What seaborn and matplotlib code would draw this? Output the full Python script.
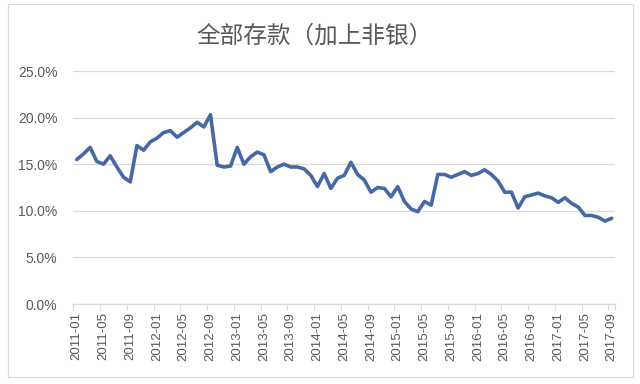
import numpy as np
import pandas as pd
import matplotlib
matplotlib.use('Agg')
import matplotlib.pyplot as plt
import matplotlib.patches as mpatches
from matplotlib.ticker import FuncFormatter, FixedLocator
import seaborn as sns

# ==========================================
# 數據：全部存款（加上非银）同比，%
# ==========================================
MONTHS = [str(p) for p in pd.period_range('2011-01', '2017-09', freq='M')]
VALUES = [
    15.5, 16.1, 16.8, 15.3, 15.0, 15.9, 14.7, 13.6, 13.1, 17.0, 16.5, 17.4,
    17.8, 18.4, 18.6, 17.9, 18.4, 18.9, 19.5, 19.0, 20.3, 14.9, 14.7, 14.8,
    16.8, 15.0, 15.8, 16.3, 16.0, 14.2, 14.7, 15.0, 14.7, 14.7, 14.5, 13.8,
    12.6, 14.0, 12.4, 13.5, 13.8, 15.2, 13.9, 13.3, 12.0, 12.5, 12.4, 11.5,
    12.6, 11.0, 10.2, 9.9, 11.0, 10.6, 13.9, 13.9, 13.6, 13.9, 14.2, 13.8,
    14.0, 14.4, 13.9, 13.2, 12.0, 12.0, 10.3, 11.5, 11.7, 11.9, 11.6, 11.4,
    10.9, 11.4, 10.8, 10.4, 9.5, 9.5, 9.3, 8.9, 9.2,
]
TITLE = '全部存款（加上非银）'
Y_TICKS = [0, 5, 10, 15, 20, 25]
LABEL_STEP = 4

LINE_COLOR = '#4669A6'
GRID_COLOR = '#D9D9D9'
TEXT_COLOR = '#595959'

sns.set_theme(style='white')
plt.rcParams['font.family'] = ['Liberation Sans', 'Noto Sans CJK SC', 'DejaVu Sans']

df = pd.DataFrame({'idx': np.arange(len(MONTHS)), 'month': MONTHS, 'value': VALUES})

fig = plt.figure(figsize=(6.4, 3.84), dpi=100)
ax = fig.add_axes([0.1147, 0.2083, 0.8463, 0.6068])

sns.lineplot(data=df, x='idx', y='value', ax=ax, color=LINE_COLOR, linewidth=2.6)

ax.set_xlim(-0.5, len(MONTHS) - 0.5)
ax.set_ylim(0, 25)

# 網格與刻度
ax.yaxis.set_major_locator(FixedLocator(Y_TICKS))
ax.yaxis.set_major_formatter(FuncFormatter(lambda v, p: f'{v:.1f}%'))
ax.grid(axis='y', color=GRID_COLOR, linewidth=0.9)
ax.set_axisbelow(True)

label_pos = df['idx'][::LABEL_STEP].tolist()
ax.set_xticks(label_pos)
ax.set_xticklabels(df['month'][::LABEL_STEP].tolist(), rotation=90)
ax.set_xticks([p - 0.5 for p in label_pos] + [len(MONTHS) - 0.5], minor=True)
ax.tick_params(axis='x', which='major', length=0, pad=6, labelsize=9.5, labelcolor=TEXT_COLOR)
ax.tick_params(axis='x', which='minor', length=4, width=0.8, color=GRID_COLOR, direction='out', bottom=True)
ax.tick_params(axis='y', length=0, pad=11.5, labelsize=10, labelcolor=TEXT_COLOR)

for s in ['top', 'right', 'left']:
    ax.spines[s].set_visible(False)
ax.spines['bottom'].set_color(GRID_COLOR)
ax.spines['bottom'].set_linewidth(0.9)

ax.set_xlabel('')
ax.set_ylabel('')

fig.text(0.492, 0.905, TITLE, ha='center', va='center', fontsize=17, color=TEXT_COLOR,
         family=['Noto Sans CJK SC', 'DejaVu Sans'], weight='light')

# 外框
fig.patches.append(mpatches.Rectangle((8 / 640, 1 - 377 / 384), 625 / 640, 373 / 384,
                                      transform=fig.transFigure, fill=False,
                                      edgecolor=GRID_COLOR, linewidth=0.9))

fig.savefig('out.png', dpi=100)
plt.close()
